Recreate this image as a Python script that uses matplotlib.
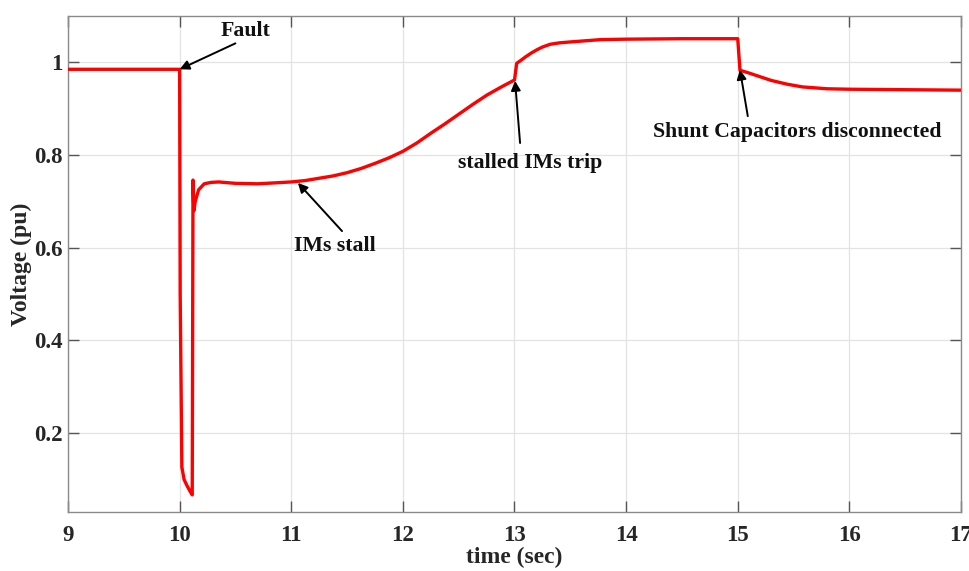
"""Bus voltage after a fault, with induction motor stall and trip events."""
import matplotlib
matplotlib.use("Agg")
import matplotlib.pyplot as plt

# voltage trace (time in s, voltage in pu)
time = [9.0, 10.0, 10.005, 10.02, 10.04, 10.07, 10.1, 10.113,
        10.12, 10.125, 10.128, 10.14, 10.17, 10.22, 10.28, 10.35,
        10.5, 10.7, 11.0, 11.125, 11.25, 11.375, 11.5, 11.625, 11.75,
        11.875, 12.0, 12.125, 12.25, 12.375, 12.5, 12.625, 12.75,
        12.875, 13.0, 13.02, 13.05, 13.1, 13.15, 13.2, 13.25, 13.32,
        13.4, 13.5, 13.77, 14.0, 14.5, 15.0, 15.02, 15.1, 15.2, 15.3,
        15.44, 15.58, 15.8, 16.0, 16.5, 17.0]
voltage = [0.985, 0.985, 0.5, 0.127, 0.1, 0.085, 0.072, 0.067,
           0.746, 0.70, 0.68, 0.70, 0.725, 0.738, 0.741, 0.742,
           0.739, 0.738, 0.742, 0.745, 0.75, 0.755, 0.762, 0.771, 0.782,
           0.794, 0.808, 0.826, 0.847, 0.867, 0.888, 0.909, 0.929,
           0.946, 0.962, 0.998, 1.003, 1.012, 1.02, 1.027, 1.033, 1.039,
           1.042, 1.044, 1.049, 1.05, 1.051, 1.051, 0.983, 0.977, 0.969,
           0.961, 0.953, 0.947, 0.943, 0.942, 0.941, 0.94]

# annotations: label, arrow tip, text position, arrow tail
notes = ["Fault", "IMs stall", "stalled IMs trip",
         "Shunt Capacitors disconnected"]
tips = [(10.0, 0.985), (11.06, 0.74), (13.005, 0.96), (15.02, 0.984)]
texts = [(10.586, 1.067), (11.39, 0.604), (13.14, 0.783), (15.53, 0.849)]
tails = [(10.5, 1.041), (11.455, 0.636), (13.05, 0.826), (15.09, 0.884)]

xticks = [9, 10, 11, 12, 13, 14, 15, 16, 17]
yticks = [0.2, 0.4, 0.6, 0.8, 1.0]
yticklabels = ["0.2", "0.4", "0.6", "0.8", "1"]

plt.rcParams["font.family"] = ["Liberation Serif", "DejaVu Serif"]
plt.rcParams["font.weight"] = "bold"

fig = plt.figure(figsize=(9.7, 5.71), dpi=100)
ax = fig.add_axes([0.0701, 0.1033, 0.9206, 0.8687])

ax.plot(time, voltage, color="#ff0000", linewidth=2.4, zorder=3)

ax.set_xlim(9, 17)
ax.set_ylim(0.03, 1.1)
ax.set_xticks(xticks)
ax.set_yticks(yticks)
ax.set_yticklabels(yticklabels)
ax.grid(True, color="#e3e3e3", linewidth=0.9)
ax.set_axisbelow(True)

for sp in ax.spines.values():
    sp.set_color("#8a8a8a")
    sp.set_linewidth(1.0)
ax.tick_params(direction="in", length=8, width=1, color="#555555",
               top=True, right=True, labelsize=16.5, labelcolor="#262626")
ax.tick_params(axis="x", pad=9)
ax.tick_params(axis="y", pad=4)

ax.set_xlabel("time (sec)", fontsize=17, fontweight="bold", color="#262626",
              labelpad=1)
ax.set_ylabel("Voltage (pu)", fontsize=17, fontweight="bold",
              color="#262626", labelpad=1)

for lab, tip, txt, tail in zip(notes, tips, texts, tails):
    ax.text(txt[0], txt[1], lab, fontsize=15.7, fontweight="bold",
            ha="center", va="center", color="#111111")
    ax.annotate("", xy=tip, xytext=tail,
                arrowprops=dict(arrowstyle="-|>", color="black", lw=1.4,
                                mutation_scale=14, shrinkA=0, shrinkB=0))

fig.savefig("out.png", dpi=100)
